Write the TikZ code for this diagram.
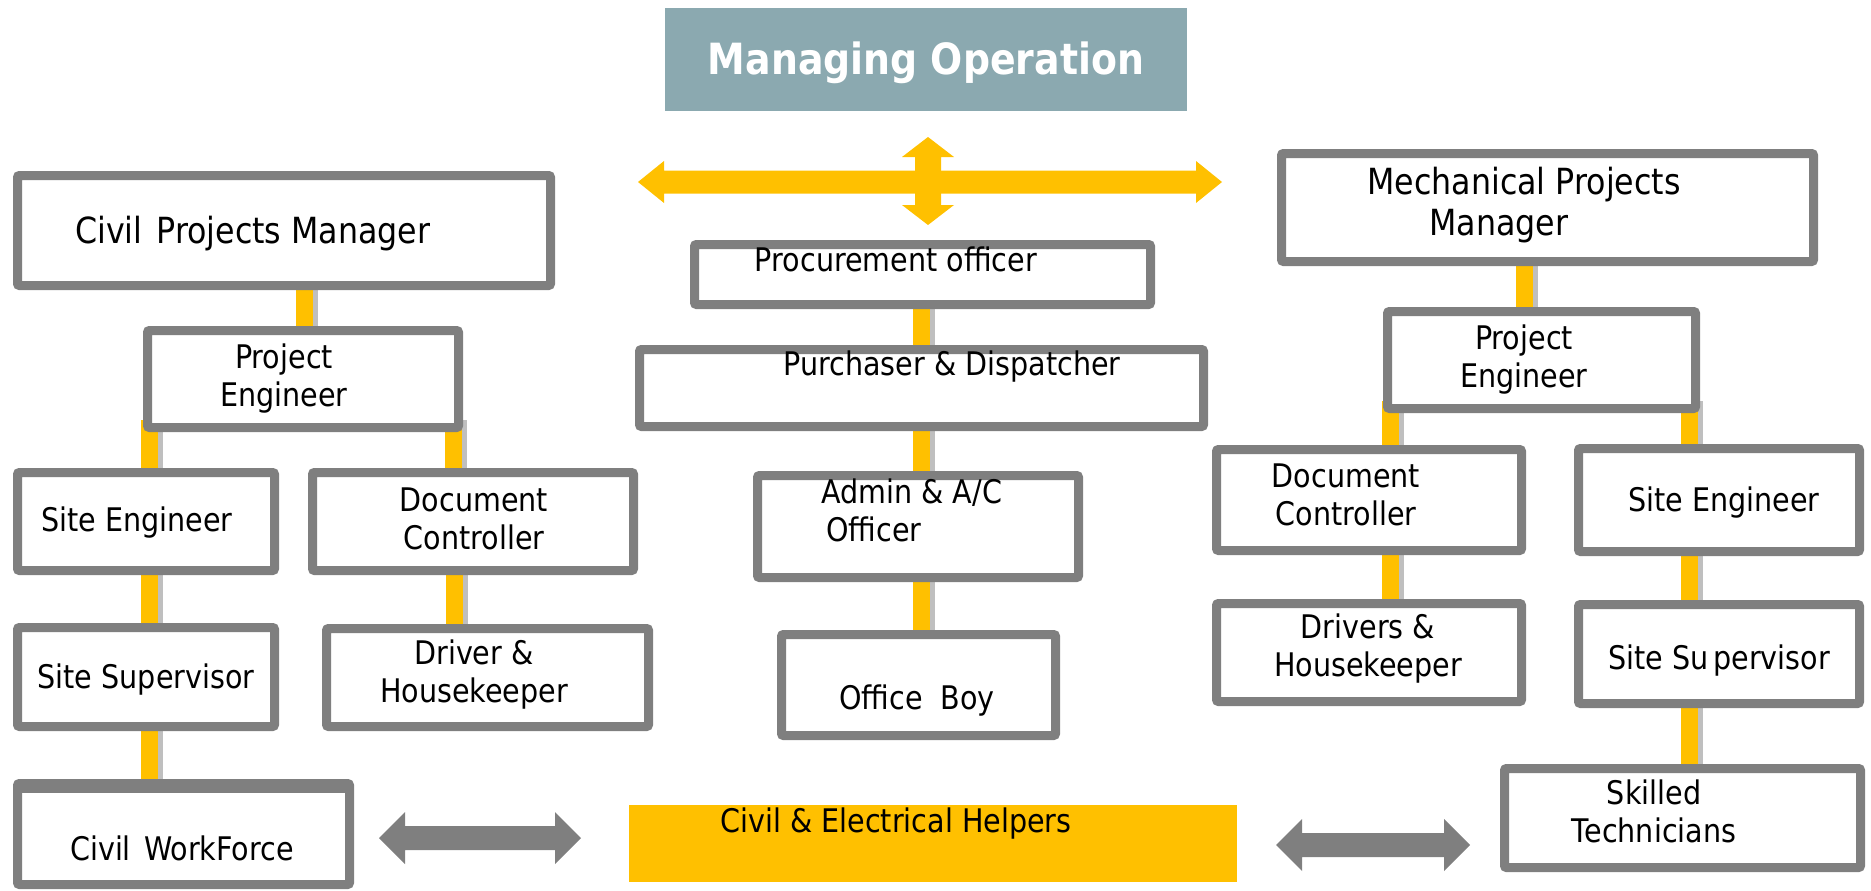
\documentclass[tikz,border=0pt]{standalone}
\usepackage{fontspec}
\setmainfont{DejaVu Sans}[FakeStretch=0.88]
\usetikzlibrary{calc}
\definecolor{bgray}{HTML}{7F7F7F}
\definecolor{sgray}{HTML}{BFBFBF}
\definecolor{cyel}{HTML}{FFC000}
\definecolor{tblue}{HTML}{8BA9B0}
\pgfdeclarelayer{bg}
\pgfsetlayers{bg,main}
\newcommand\obox[5]{\node[obox, minimum width={(#4-#2-9)*1pt}, minimum height={(#5-#3-9)*1pt}] (#1) at ({(#2+#4)/2},{(#3+#5)/2}) {};}
\newcommand\link[3]{%
 \draw[gconn] ($(#1.south west)+(#3+11,-12)$) -- ($(#1.south west |- #2.north)+(#3+11,0)$);
 \draw[yconn] ($(#1.south west)+(#3+8.5,-12)$) -- ($(#1.south west |- #2.north)+(#3+8.5,0)$);}
\newcommand\harrow[7]{\fill[#1] (#2,#4) -- ({#2+#5},{#4-#6}) -- ({#2+#5},{#4-#7}) -- ({#3-#5},{#4-#7}) -- ({#3-#5},{#4-#6}) -- (#3,#4) -- ({#3-#5},{#4+#6}) -- ({#3-#5},{#4+#7}) -- ({#2+#5},{#4+#7}) -- ({#2+#5},{#4+#6}) -- cycle;}
\newcommand\varrow[7]{\fill[#1] (#4,#2) -- ({#4+#6},{#2+#5}) -- ({#4+#7},{#2+#5}) -- ({#4+#7},{#3-#5}) -- ({#4+#6},{#3-#5}) -- (#4,#3) -- ({#4-#6},{#3-#5}) -- ({#4-#7},{#3-#5}) -- ({#4-#7},{#2+#5}) -- ({#4-#6},{#2+#5}) -- cycle;}
\begin{document}
\begin{tikzpicture}[x=1pt,y=-1pt,
 obox/.style={draw=bgray, line width=9pt, fill=white, rounded corners=2pt, inner sep=0pt},
 txt/.style={font=\fontsize{32.5}{38}\selectfont, align=center, inner sep=0pt},
 big/.style={font=\fontsize{36}{41}\selectfont, align=center, inner sep=0pt},
 yconn/.style={cyel, line width=17pt},
 gconn/.style={sgray, line width=22pt}]
\useasboundingbox (0,0) rectangle (1871,891);

% title
\node[fill=tblue, minimum width=522pt, minimum height=103pt, inner sep=0pt] (mo) at (926,59.5) {};
\node[inner sep=0pt, text=white, font=\bfseries\fontsize{43}{48}\selectfont] (mot) at (926,63) {Managing Operation};

% cross arrow
\harrow{cyel}{638}{1222}{182}{26}{21}{11.5}
\varrow{cyel}{137}{225}{928}{20}{26}{13}

% boxes
\obox{cpm}{13}{171}{555}{290}
\obox{pel}{143}{326}{463}{432}
\obox{sel}{13}{468}{279}{575}
\obox{dcl}{308}{468}{638}{575}
\obox{ssl}{13}{623}{279}{731}
\obox{dhl}{322}{624}{653}{731}
\obox{cw}{13}{779}{354}{889}
\obox{po}{690}{240}{1155}{309}
\obox{pd}{635}{345}{1208}{431}
\obox{aa}{753}{471}{1083}{582}
\obox{ob}{777}{630}{1060}{740}
\obox{mpm}{1277}{149}{1818}{266}
\obox{per}{1383}{307}{1700}{413}
\obox{dcr}{1212}{445}{1526}{555}
\obox{ser}{1574}{444}{1864}{556}
\obox{dhr}{1212}{599}{1526}{706}
\obox{ssr}{1574}{600}{1864}{708}
\obox{st}{1500}{764}{1865}{872}
\draw[bgray, line width=5pt] ([shift={(5pt,-11pt)}]cw.north west) -- ([shift={(-5pt,-11pt)}]cw.north east);

\node[fill=cyel, minimum width=608pt, minimum height=77pt, inner sep=0pt] (ceh) at (933,843.5) {};

% gray double arrows
\harrow{bgray}{379}{581}{838}{26}{26}{12}
\harrow{bgray}{1276}{1470}{845}{26}{26}{12}

% texts
\node[big, anchor=west] (cpmt) at (75,234) {Civil\hspace{4pt} Projects Manager};
\node[txt] (pelt) at (284,379) {Project\\Engineer};
\node[txt] (selt) at (137,523) {Site Engineer};
\node[txt] (dclt) at (474,519) {Document\\Controller};
\node[txt] (sslt) at (146,680) {Site Supervisor};
\node[txt] (dhlt) at (474,675) {Driver \&\\Housekeeper};
\node[txt] (cwt) at (182,848) {Civil\hspace{4pt} WorkForce};
\node[txt] (pot) at (896,259) {Procurement officer};
\node[txt] (pdt) at (952,367) {Purchaser \& Dispatcher};
\node[txt, anchor=west, align=left] (aat) at (821,510) {Admin \& A/C\\\hspace*{5pt}Officer};
\node[txt] (obt) at (917,701) {Office~~Boy};
\node[txt] (ceht) at (896,824) {Civil \& Electrical Helpers};
\node[big] (mpmt) at (1524,205) {Mechanical Projects\\Manager\hspace*{50pt}};
\node[txt] (pert) at (1524,360) {Project\\Engineer};
\node[txt] (dcrt) at (1346,495) {Document\\Controller};
\node[txt] (sert) at (1724,503) {Site Engineer};
\node[txt] (dhrt) at (1368,649) {Drivers \&\\Housekeeper};
\node[txt] (ssrt) at (1719,661) {Site Su\hspace{5pt}pervisor};
\node[txt] (stt) at (1654,811) {Skilled\\Technicians};

% connectors
\begin{pgfonlayer}{bg}
\link{cpm}{pel}{283}
\link{pel}{sel}{-2}
\link{pel}{dcl}{302}
\link{sel}{ssl}{128}
\link{ssl}{cw}{128}
\link{dcl}{dhl}{138}
\link{po}{pd}{223}
\link{pd}{aa}{278}
\link{aa}{ob}{160}
\link{mpm}{per}{239}
\link{per}{dcr}{-1}
\link{per}{ser}{298}
\link{dcr}{dhr}{170}
\link{ser}{ssr}{107}
\link{ssr}{st}{107}
\end{pgfonlayer}
\end{tikzpicture}
\end{document}
